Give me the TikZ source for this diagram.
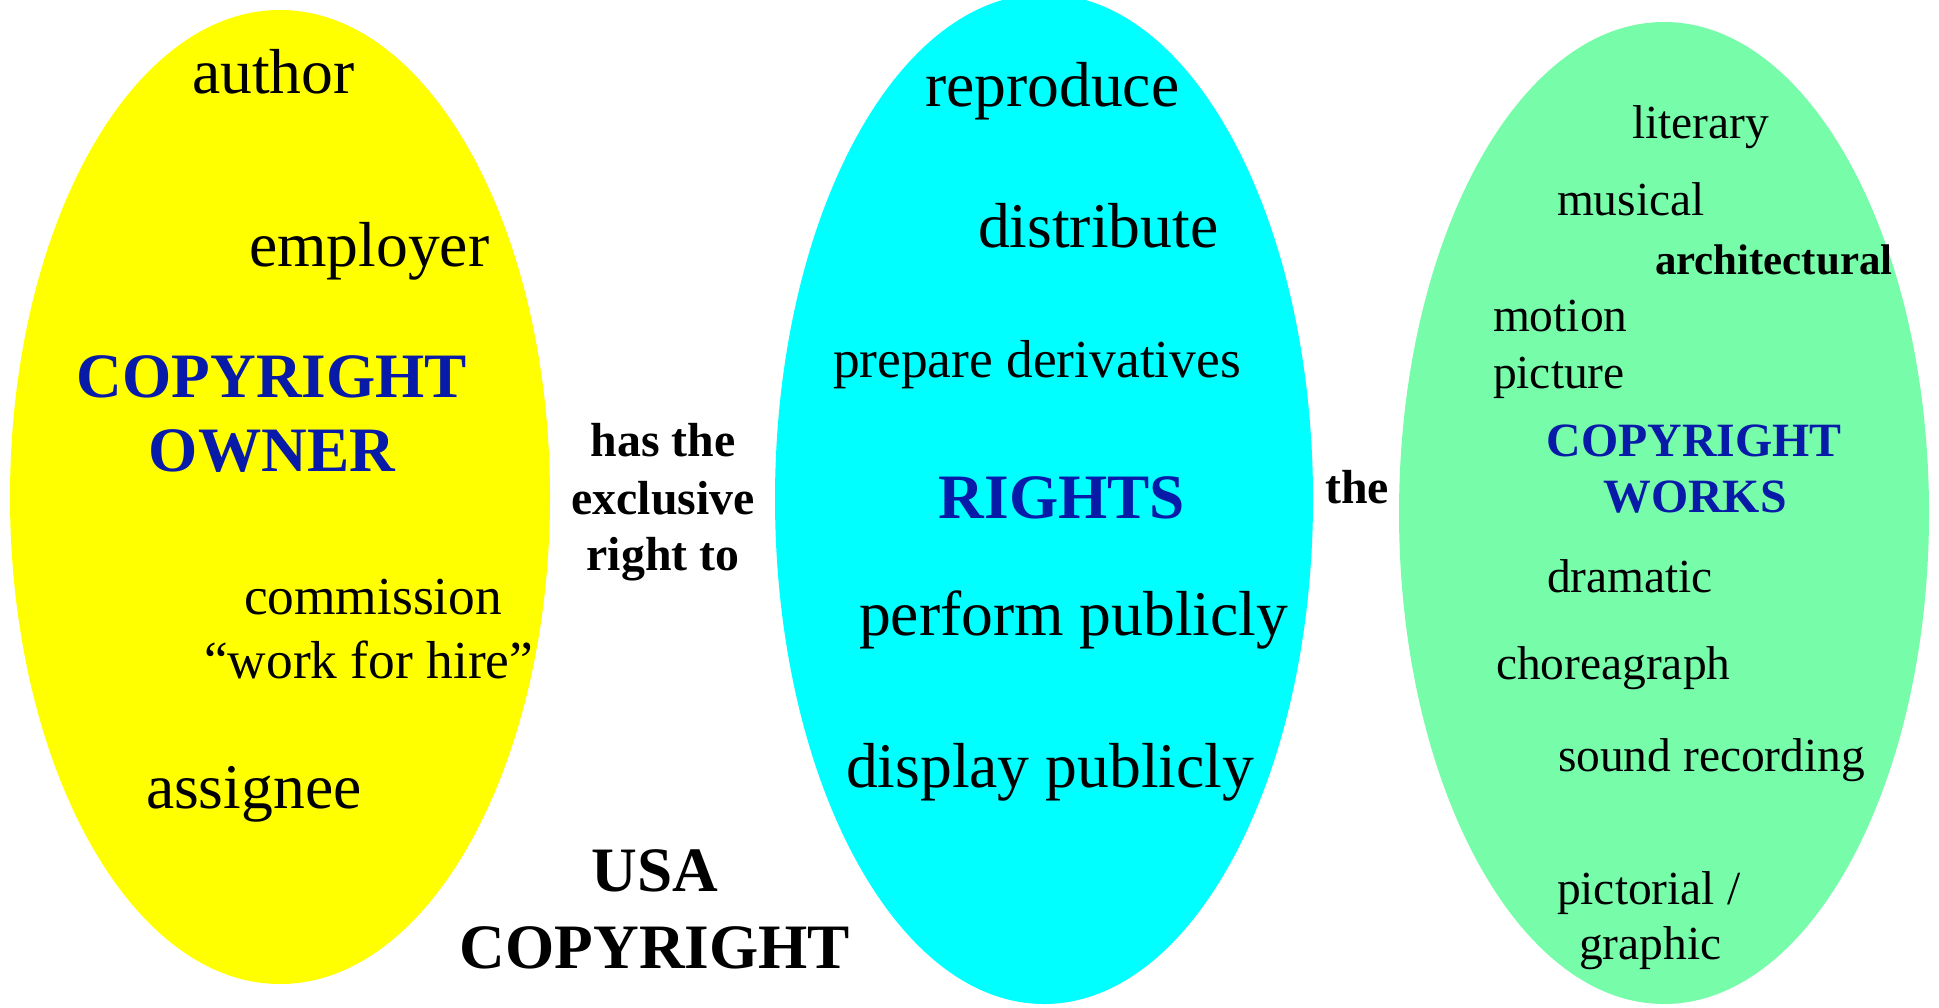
\documentclass[tikz,border=0pt]{standalone}
\usepackage{fontspec}
\setmainfont{Liberation Serif}
\usepackage{tikz}

\definecolor{owneryellow}{RGB}{255,255,0}
\definecolor{rightscyan}{RGB}{0,255,255}
\definecolor{worksgreen}{RGB}{119,252,170}
\definecolor{headblue}{RGB}{8,26,168}

\begin{document}
\begin{tikzpicture}[x=0.1mm, y=-0.1mm,
  every node/.style={inner sep=0pt, outer sep=0pt, anchor=base west},
  big/.style={font=\fontsize{18.1}{20}\selectfont},
  mid/.style={font=\fontsize{15.2}{17}\selectfont},
  small/.style={font=\fontsize{13.5}{15}\selectfont},
  tiny/.style={font=\fontsize{12.2}{14}\selectfont\bfseries},
  head/.style={font=\fontsize{18}{20}\selectfont\bfseries, text=headblue, anchor=base},
  smallhead/.style={font=\fontsize{13.6}{15}\selectfont\bfseries, text=headblue, anchor=base},
  link/.style={font=\fontsize{13.6}{15}\selectfont\bfseries, anchor=base},
  title/.style={font=\fontsize{18}{20}\selectfont\bfseries, anchor=base}]
\useasboundingbox (0,0) rectangle (1939,1007);

% the three sets
\fill[owneryellow] (280,497) ellipse [x radius=270, y radius=487];
\fill[rightscyan] (1044,499) ellipse [x radius=269, y radius=505];
\fill[worksgreen] (1664,513) ellipse [x radius=265, y radius=491];

% owner
\node[big] (author) at (192,94) {author};
\node[big] (employer) at (249,267) {employer};
\node[head] (owner1) at (272,397) {COPYRIGHT};
\node[head] (owner2) at (272,471) {OWNER};
\node[mid] (commission) at (244,614) {commission};
\node[mid] (hire) at (204,678) {“work for hire”};
\node[big] (assignee) at (146,808) {assignee};

% link words
\node[link] (has1) at (663,456) {has the};
\node[link] (has2) at (663,514) {exclusive};
\node[link] (has3) at (663,570) {right to};
\node[link] (the) at (1357,503) {the};
\node[title] (usa1) at (655,891) {USA};
\node[title] (usa2) at (655,968) {COPYRIGHT};

% rights
\node[big] (reproduce) at (925,107) {reproduce};
\node[big] (distribute) at (978,248) {distribute};
\node[mid] (derivatives) at (833,377) {prepare derivatives};
\node[head] (rights) at (1062,518) {RIGHTS};
\node[big] (perform) at (859,635) {perform publicly};
\node[big] (display) at (846,787) {display publicly};

% works
\node[small] (literary) at (1632,139) {literary};
\node[small] (musical) at (1557,216) {musical};
\node[tiny] (architectural) at (1655,275) {architectural};
\node[small] (motion) at (1493,332) {motion};
\node[small] (picture) at (1493,388) {picture};
\node[smallhead] (works1) at (1694,456) {COPYRIGHT};
\node[smallhead] (works2) at (1695,512) {WORKS};
\node[small] (dramatic) at (1547,592) {dramatic};
\node[small] (choreagraph) at (1496,679) {choreagraph};
\node[small] (sound) at (1558,771) {sound recording};
\node[small] (pictorial) at (1557,904) {pictorial /};
\node[small] (graphic) at (1579,959) {graphic};
\end{tikzpicture}
\end{document}
